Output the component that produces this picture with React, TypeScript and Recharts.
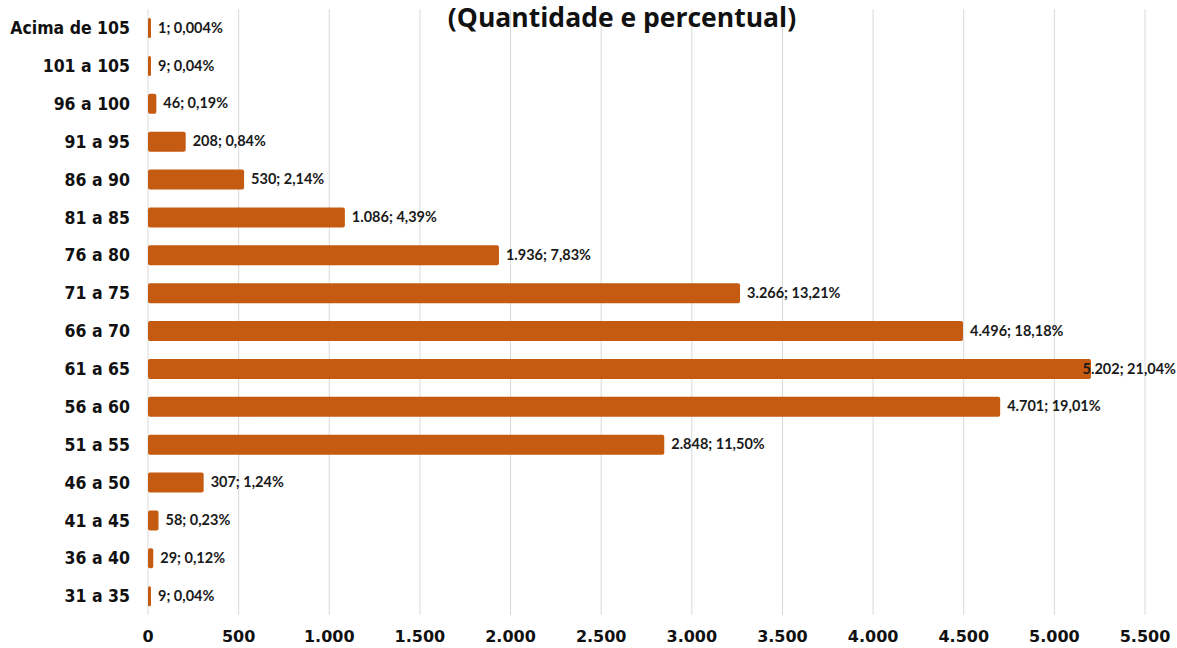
import React from "react"
import { BarChart, Bar, XAxis, YAxis, CartesianGrid, LabelList } from "recharts"

const faixas = [
  "Acima de 105",
  "101 a 105",
  "96 a 100",
  "91 a 95",
  "86 a 90",
  "81 a 85",
  "76 a 80",
  "71 a 75",
  "66 a 70",
  "61 a 65",
  "56 a 60",
  "51 a 55",
  "46 a 50",
  "41 a 45",
  "36 a 40",
  "31 a 35",
]

const quantidades = [1, 9, 46, 208, 530, 1086, 1936, 3266, 4496, 5202, 4701, 2848, 307, 58, 29, 9]

const percentuais = [
  "0,004", "0,04", "0,19", "0,84", "2,14", "4,39", "7,83", "13,21",
  "18,18", "21,04", "19,01", "11,50", "1,24", "0,23", "0,12", "0,04",
]

const xTicks = [0, 500, 1000, 1500, 2000, 2500, 3000, 3500, 4000, 4500, 5000, 5500]

const W = 1177
const H = 648

const fmt = (v: number) => String(v).replace(/\B(?=(\d{3})+(?!\d))/g, ".")

const data = faixas.map((faixa, i) => ({
  faixa,
  valor: quantidades[i],
  rotulo: `${fmt(quantidades[i])}; ${percentuais[i]}%`,
}))

// rótulo à direita da barra; se não couber, encosta na borda direita
function BarLabel(props: any) {
  const { x, y, width, height, value } = props
  const text = String(value)
  const estWidth = text.length * 7.3
  let lx = x + width + 7
  let anchor: "start" | "end" = "start"
  if (lx + estWidth > W - 2) {
    lx = W - 1
    anchor = "end"
  }
  return (
    <text
      x={lx}
      y={y + height / 2 + 1}
      textAnchor={anchor}
      dominantBaseline="middle"
      fontFamily="Lato, 'Open Sans', sans-serif"
      fontWeight={700}
      fontSize={14.5}
      fill="#1a1a1a"
    >
      {text}
    </text>
  )
}

export default function App() {
  return (
    <div style={{ position: "absolute", left: 0, top: 0, width: W, height: H, background: "#fff" }}>
      <BarChart
        width={W}
        height={H}
        data={data}
        layout="vertical"
        margin={{ top: 9, right: 32, bottom: 0, left: 0 }}
        barCategoryGap={9}
      >
        <text
          x={622}
          y={27}
          textAnchor="middle"
          fontFamily="'Open Sans', sans-serif"
          fontWeight={700}
          fontSize={26.5}
          fill="#111"
        >
          (Quantidade e percentual)
        </text>
        <CartesianGrid horizontal={false} stroke="#d9d9d9" strokeWidth={1} />
        <XAxis
          type="number"
          domain={[0, 5500]}
          ticks={xTicks}
          tickFormatter={fmt}
          axisLine={false}
          tickLine={false}
          tickMargin={10}
          height={33}
          interval={0}
          tick={{ fontFamily: "'DejaVu Sans', sans-serif", fontWeight: 700, fontSize: 16, fill: "#111" }}
        />
        <YAxis
          type="category"
          dataKey="faixa"
          width={148}
          axisLine={false}
          tickLine={false}
          tickMargin={12}
          interval={0}
          tick={{ fontFamily: "'DejaVu Sans Condensed', 'DejaVu Sans', sans-serif", fontWeight: 700, fontSize: 17.5, fill: "#111" }}
        />
        <Bar
          dataKey="valor"
          fill="#C55A11"
          barSize={20}
          radius={2}
          minPointSize={3}
          isAnimationActive={false}
        >
          <LabelList dataKey="rotulo" content={<BarLabel />} />
        </Bar>
      </BarChart>
    </div>
  )
}
